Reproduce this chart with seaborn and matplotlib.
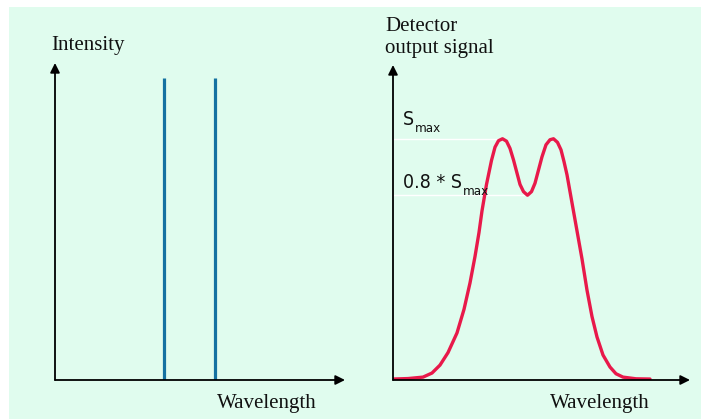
import numpy as np
import pandas as pd
import matplotlib
matplotlib.use('Agg')
import matplotlib.pyplot as plt
import seaborn as sns
from matplotlib.patches import Rectangle

# =============================================================================
# data
# =============================================================================
# left panel: two sharp emission lines
line_positions = [109, 160]
line_heights = [1.0, 1.0]

# right panel: detector output signal (fraction of Smax) versus wavelength
wavelength = [0, 15, 30, 39, 47, 55, 64, 71, 77, 82, 86, 89, 93.5, 98.5,
              102, 105.5, 109.5, 113.5, 117, 120.5, 124, 127, 130.5, 134.5,
              138.5, 142, 145.5, 149, 153, 157, 160.5, 164.5, 168, 171, 174,
              177, 180, 183, 186, 189, 194, 199, 204, 210, 217, 223, 230, 243,
              257]
signal = [0.0, 0.002, 0.008, 0.025, 0.058, 0.11, 0.192, 0.29, 0.40, 0.51,
          0.61, 0.70, 0.81, 0.91, 0.965, 0.992, 1.0, 0.99, 0.96, 0.912,
          0.857, 0.81, 0.78, 0.765, 0.78, 0.815, 0.87, 0.925, 0.975, 0.996,
          1.0, 0.985, 0.954, 0.905, 0.85, 0.78, 0.71, 0.64, 0.57, 0.50, 0.37,
          0.26, 0.175, 0.10, 0.05, 0.022, 0.008, 0.001, 0.0]

s_max = 1.0
s_dip = 0.765
peak_x = 110
dip_x = 134.5

df = pd.DataFrame({'wavelength': wavelength, 'signal': signal})

sns.set_style('white')
plt.rcParams['font.family'] = ['Liberation Serif', 'DejaVu Serif']

W, H = 701, 419
fig = plt.figure(figsize=(7.01, 4.19), dpi=100)
fig.patch.set_facecolor('white')
fig.patches.append(Rectangle((9 / W, 0), 1, 1 - 7 / H, transform=fig.transFigure,
                             facecolor='#e0fcee', edgecolor='none', zorder=-5))

blue = '#1572a1'
red = '#e8194a'

def arrows(ax):
    ax.axis('off')
    kw = dict(arrowstyle='-|>', mutation_scale=14, lw=1.3, color='black',
              shrinkA=0, shrinkB=0)
    ax.annotate('', xy=(0, 1), xytext=(0, 0), xycoords='axes fraction',
                arrowprops=kw, annotation_clip=False)
    ax.annotate('', xy=(1, 0), xytext=(0, 0), xycoords='axes fraction',
                arrowprops=kw, annotation_clip=False)

# left panel
ax1 = fig.add_axes([55 / W, (H - 380) / H, (345 - 55) / W, (380 - 63) / H])
ax1.set_facecolor('none')
ax1.vlines(line_positions, 0, line_heights, color=blue, lw=2.3)
ax1.set_xlim(0, 290)
ax1.set_ylim(0, 317 / 302)
arrows(ax1)

# right panel
ax2 = fig.add_axes([393 / W, (H - 380) / H, (690 - 393) / W, (380 - 65) / H])
ax2.set_facecolor('none')
ax2.hlines([s_max, s_dip], 0, [peak_x, dip_x], color='white', lw=1.0, zorder=1)
sns.lineplot(data=df, x='wavelength', y='signal', ax=ax2, color=red, lw=2.4,
             zorder=3, solid_joinstyle='round', solid_capstyle='round')
ax2.set_xlim(0, 297)
ax2.set_ylim(-0.004, 315 / 241)
arrows(ax2)

# texts
serif = dict(fontsize=15, color='#111111')
fig.text(51 / W, 1 - 50 / H, 'Intensity', **serif)
fig.text(217 / W, 1 - 408 / H, 'Wavelength', **serif)
fig.text(550 / W, 1 - 408 / H, 'Wavelength', **serif)
fig.text(385 / W, 1 - 31 / H, 'Detector', **serif)
fig.text(385 / W, 1 - 53 / H, 'output signal', **serif)

narrow = dict(color='#111111', family=['DejaVu Sans'], fontstretch='condensed')
for label, y in [('S', 125), ('0.8 * S', 188)]:
    t = fig.text(403 / W, 1 - y / H, label, fontsize=14, **narrow)
    fig.add_artist(plt.Annotation('max', xy=(1, 0), xycoords=t,
                                  xytext=(0.5, -2.5), textcoords='offset points',
                                  fontsize=9.5, **narrow))

fig.savefig('out.png', dpi=100, facecolor=fig.get_facecolor())
